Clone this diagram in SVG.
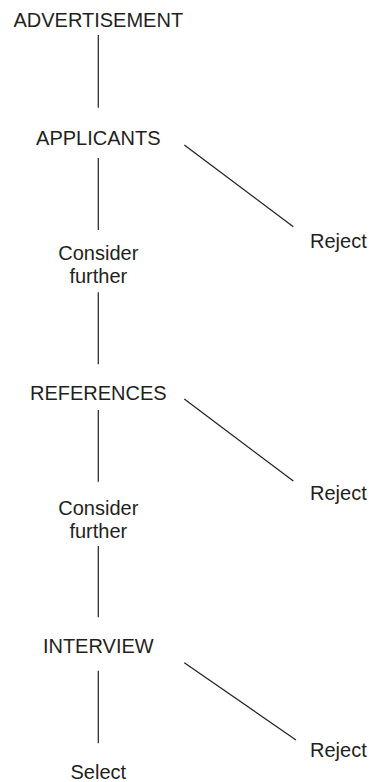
<svg xmlns="http://www.w3.org/2000/svg" width="369" height="782" viewBox="0 0 369 782">
<style>
text{font-family:"Liberation Sans",Arial,sans-serif;font-size:20px;fill:#231f20}
.c{text-anchor:middle}
line{stroke:#231f20;stroke-width:1.2}
</style>
<rect width="369" height="782" fill="#fff"/>
<g id="connectors">
<line x1="98.3" y1="35" x2="98.3" y2="107.7"/>
<line x1="98.3" y1="158" x2="98.3" y2="230"/>
<line x1="184.3" y1="145" x2="293.3" y2="226.7"/>
<line x1="98.3" y1="292.3" x2="98.3" y2="364.3"/>
<line x1="184.3" y1="399" x2="293.3" y2="481"/>
<line x1="98.3" y1="410" x2="98.3" y2="481.7"/>
<line x1="98.3" y1="546" x2="98.3" y2="617.3"/>
<line x1="98.3" y1="670.7" x2="98.3" y2="743.3"/>
<line x1="184.3" y1="662.7" x2="296" y2="740"/>
</g>
<g id="advertisement"><text class="c" x="98.3" y="26.5">ADVERTISEMENT</text></g>
<g id="applicants"><text class="c" x="98.3" y="145">APPLICANTS</text></g>
<g id="reject1"><text x="310" y="248.3">Reject</text></g>
<g id="consider1"><text class="c" x="98.3" y="260">Consider</text><text class="c" x="98.3" y="282.7">further</text></g>
<g id="references"><text class="c" x="98.3" y="399.5">REFERENCES</text></g>
<g id="reject2"><text x="310" y="500">Reject</text></g>
<g id="consider2"><text class="c" x="98.3" y="515">Consider</text><text class="c" x="98.3" y="537.7">further</text></g>
<g id="interview"><text class="c" x="98.3" y="652.7">INTERVIEW</text></g>
<g id="reject3"><text x="310" y="756.7">Reject</text></g>
<g id="select"><text class="c" x="98.3" y="779">Select</text></g>
</svg>
